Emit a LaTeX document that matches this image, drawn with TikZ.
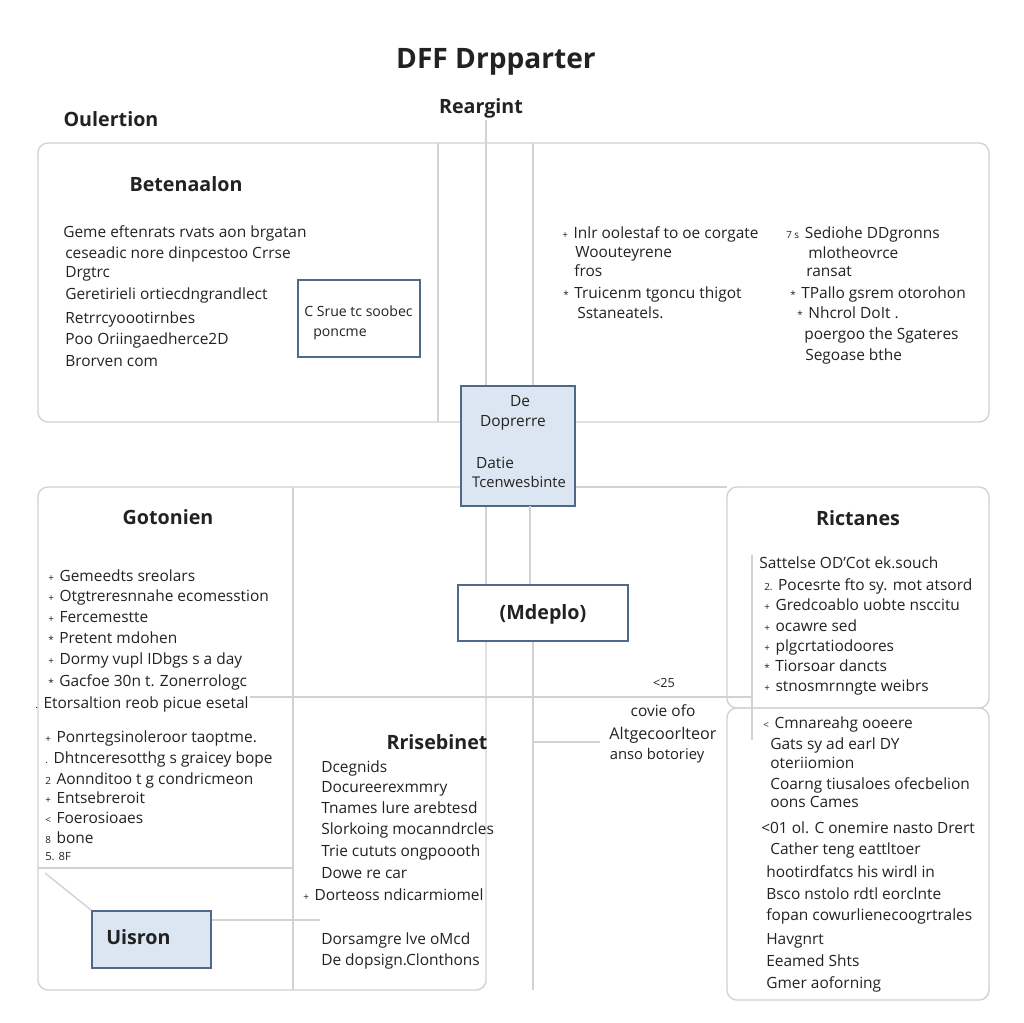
\documentclass[tikz,border=0pt]{standalone}
\usepackage{fontspec}
\setmainfont{Open Sans}
\definecolor{ink}{HTML}{222222}
\definecolor{rulegray}{HTML}{D2D2D2}
\definecolor{boxline}{HTML}{4E6A88}
\definecolor{boxfill}{HTML}{DCE6F2}
\newcommand\blt[1]{{\fontsize{7}{8}\selectfont #1}\hspace{4pt}}

\begin{document}
\begin{tikzpicture}[x=0.025cm, y=-0.025cm,
  divider/.style={draw=rulegray, line width=1pt},
  panel/.style={draw=rulegray, line width=1pt, rounded corners=7pt},
  bluebox/.style={draw=boxline, fill=boxfill, line width=1.3pt, inner sep=0pt},
  plainbox/.style={draw=boxline, fill=white, line width=1.3pt, inner sep=0pt},
  txt/.style={anchor=west, inner sep=0pt, text=ink, font=\fontsize{11}{12}\selectfont, text height=7.8pt, text depth=2pt},
  heading/.style={inner sep=0pt, text=ink, font=\fontsize{14}{16}\selectfont\bfseries, text height=10pt, text depth=3pt}]
  \fill[white] (0,0) rectangle (1023,1023);
  \useasboundingbox (0,0) rectangle (1023,1023);

  % headings
  \node[heading, font=\fontsize{20}{22}\selectfont\bfseries] (title) at (496,64) {DFF Drpparter};
  \node[heading] (reargint) at (481,109) {Reargint};
  \node[heading] (oulertion) at (111,122) {Oulertion};

  % panels and rules
  \draw[panel] (38,143) rectangle (989,422);
  \draw[panel] (38,487) rectangle (486,990);
  \draw[panel] (727,487) rectangle (989,708);
  \draw[panel] (727,708) rectangle (989,1000);
  \draw[divider] (438,143) -- (438,422);
  \draw[divider] (575,487) -- (727,487);
  \draw[divider] (293,487) -- (293,990);
  \draw[divider] (250,697) -- (752,697);
  \draw[divider] (752,555) -- (752,740);
  \draw[divider] (38,868) -- (293,868);

  % boxes
  \node[bluebox, minimum width=2.85cm, minimum height=3cm] (core) at (518,446) {};
  \node[plainbox, minimum width=4.25cm, minimum height=1.4cm] (mdeplo) at (543,613) {};
  \node[bluebox, minimum width=2.975cm, minimum height=1.425cm] (uisron) at (151.5,939.5) {};
  \node[plainbox, minimum width=3.05cm, minimum height=1.925cm] (notebox) at (359,318.5) {};

  % links
  \coordinate (rg) at (486,120);
  \coordinate (rr) at (533,143);
  \coordinate (ml) at (530,506);
  \coordinate (mr) at (533,990);
  \coordinate (cut) at (45,873);
  \coordinate (side) at (320,920);
  \coordinate (tab) at (600,742);
  \draw[divider] (rg) -- (rg |- core.north);
  \draw[divider] (rr) -- (rr |- core.north);
  \draw[divider] (core.south -| rg) -- (mdeplo.north -| rg);
  \draw[divider] (ml) -- (ml |- mdeplo.north);
  \draw[divider] (mdeplo.south -| mr) -- (mr);
  \draw[divider] (cut) -- (uisron.north west);
  \draw[divider] (uisron.east |- side) -- (side);
  \draw[divider] (tab -| mr) -- (tab);

  % box texts
  \node[txt, anchor=center] (de) at (520,402) {De};
  \node[txt, anchor=center] (doprerre) at (513,422) {Doprerre};
  \node[txt, anchor=center] (datie) at (495,464) {Datie};
  \node[txt, anchor=center, font=\fontsize{10.5}{12}\selectfont] (tcen) at (519,483) {Tcenwesbinte};
  \node[heading] (mdeplotxt) at (543,615) {(Mdeplo)};
  \node[heading, anchor=west] (uisrontxt) at (106,940) {Uisron};
  \node[txt, font=\fontsize{10}{11}\selectfont] (nb1) at (304,312) {C Srue tc soobec};
  \node[txt, font=\fontsize{10}{11}\selectfont] (nb2) at (313,332) {poncme};

  % top left
  \node[heading] (betenaalon) at (186,187) {Betenaalon};
  \foreach \x/\y/\t [count=\i] in {63/233/Geme eftenrats rvats aon brgatan,
      65/254/ceseadic nore dinpcestoo Crrse, 65/273/Drgtrc,
      65/295/Geretirieli ortiecdngrandlect, 65/319/Retrrcyoootirnbes,
      65/340/Poo Oriingaedherce2D, 65/362/Brorven com}
    \node[txt] (tl\i) at (\x,\y) {\t};

  % top right
  \foreach \x/\y/\t [count=\i] in {562/234/\blt{+}Inlr oolestaf to oe corgate,
      575/253/Woouteyrene, 574/272/fros,
      563/294/\blt{*}Truicenm tgoncu thigot, 577/314/Sstaneatels.,
      786/234/\blt{7 s}Sediohe DDgronns, 808/254/mlotheovrce, 806/272/ransat,
      790/294/\blt{*}TPallo gsrem otorohon, 797/314/\blt{*}Nhcrol DoIt .,
      804/335/poergoo the Sgateres, 805/356/Segoase bthe}
    \node[txt] (tr\i) at (\x,\y) {\t};

  % lower left
  \node[heading] (gotonien) at (168,520) {Gotonien};
  \foreach \x/\y/\t [count=\i] in {48/577/\blt{+}Gemeedts sreolars,
      48/597/\blt{+}Otgtreresnnahe ecomesstion, 48/618/\blt{+}Fercemestte,
      48/639/\blt{*}Pretent mdohen, 48/660/\blt{+}Dormy vupl IDbgs s a day,
      48/682/\blt{*}Gacfoe 30n t. Zonerrologc, 35/704/\blt{.}Etorsaltion reob picue esetal,
      45/738/\blt{+}Ponrtegsinoleroor taoptme., 45/759/\blt{.}Dhtnceresotthg s graicey bope,
      45/780/\blt{2}Aonnditoo t g condricmeon, 45/799/\blt{+}Entsebreroit,
      45/819/\blt{<}Foerosioaes, 45/839/\blt{8}bone}
    \node[txt] (ll\i) at (\x,\y) {\t};
  \node[txt, font=\fontsize{8}{9}\selectfont] (ll14) at (45,856) {5. 8F};

  % lower middle
  \node[heading] (rrisebinet) at (437,745) {Rrisebinet};
  \foreach \x/\y/\t [count=\i] in {321/768/Dcegnids, 321/788/Docureerexmmry,
      321/809/Tnames lure arebtesd, 321/830/Slorkoing mocanndrcles,
      321/852/Trie cututs ongpoooth, 321/874/Dowe re car,
      303/896/\blt{+}Dorteoss ndicarmiomel, 321/940/Dorsamgre lve oMcd,
      321/961/De dopsign.Clonthons}
    \node[txt] (lm\i) at (\x,\y) {\t};

  % middle right
  \node[txt, anchor=center, font=\fontsize{9}{10}\selectfont] (lt25) at (664,683) {<25};
  \node[txt, anchor=center] (covie) at (663,712) {covie ofo};
  \node[txt, anchor=center, font=\fontsize{11.5}{13}\selectfont] (altge) at (663,735) {Altgecoorlteor};
  \node[txt, anchor=center, font=\fontsize{10.5}{12}\selectfont] (anso) at (657,755) {anso botoriey};

  % right panels
  \node[heading] (rictanes) at (858,521) {Rictanes};
  \foreach \x/\y/\t [count=\i] in {759/564/Sattelse OD'Cot ek.souch,
      764/586/\blt{2.}Pocesrte fto sy. mot atsord, 764/606/\blt{+}Gredcoablo uobte nsccitu,
      764/627/\blt{+}ocawre sed, 764/647/\blt{+}plgcrtatiodoores,
      764/667/\blt{*}Tiorsoar dancts, 764/687/\blt{+}stnosmrnngte weibrs}
    \node[txt] (ra\i) at (\x,\y) {\t};
  \foreach \x/\y/\t [count=\i] in {763/724/\blt{<}Cmnareahg ooeere,
      770/745/Gats sy ad earl DY, 770/764/oteriiomion,
      770/785/Coarng tiusaloes ofecbelion, 770/803/oons Cames,
      761/829/<01 ol. C onemire nasto Drert, 770/850/Cather teng eattltoer,
      766/873/hootirdfatcs his wirdl in, 766/895/Bsco nstolo rdtl eorclnte,
      766/916/fopan cowurlienecoogrtrales, 766/940/Havgnrt,
      766/962/Eeamed Shts, 766/984/Gmer aoforning}
    \node[txt] (rb\i) at (\x,\y) {\t};
\end{tikzpicture}
\end{document}
